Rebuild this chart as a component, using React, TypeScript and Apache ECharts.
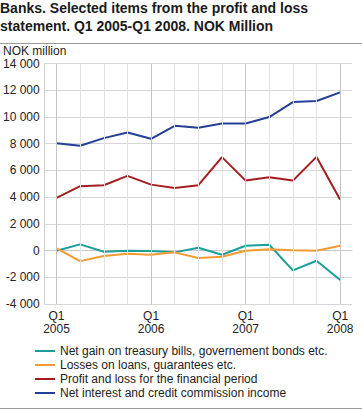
import React, { useEffect, useRef } from "react";
import * as echarts from "echarts";

const categories = [
  "Q1 2005", "Q2 2005", "Q3 2005", "Q4 2005",
  "Q1 2006", "Q2 2006", "Q3 2006", "Q4 2006",
  "Q1 2007", "Q2 2007", "Q3 2007", "Q4 2007",
  "Q1 2008",
];

const netGain = [-15, 465, -90, -15, -40, -135, 210, -315, 360, 435, -1485, -765, -2210];
const losses = [165, -790, -410, -240, -315, -135, -560, -465, -15, 90, 15, -15, 360];
const profit = [3940, 4815, 4890, 5590, 4935, 4690, 4890, 6990, 5235, 5490, 5235, 7010, 3810];
const netInterest = [8040, 7840, 8415, 8835, 8365, 9340, 9190, 9510, 9510, 9990, 11115, 11190, 11835];

const seriesNames = [
  "Net gain on treasury bills, governement bonds etc.",
  "Losses on loans, guarantees etc.",
  "Profit and loss for the financial period",
  "Net interest and credit commission income",
];
const seriesData = [netGain, losses, profit, netInterest];
const seriesColors = ["#1b9e9a", "#f39a32", "#a31d21", "#233f96"];

const FONT = "Liberation Sans, Arial, sans-serif";

export default function App() {
  const ref = useRef<HTMLDivElement>(null);
  useEffect(() => {
    if (!ref.current) return;
    const chart = echarts.init(ref.current, undefined, { renderer: "svg" });
    const fmt = (v: number) => {
      const s = Math.abs(v).toString().replace(/\B(?=(\d{3})+(?!\d))/g, " ");
      return (v < 0 ? "-" : "") + s;
    };
    chart.setOption({
      animation: false,
      textStyle: { fontFamily: FONT },
      title: {
        text: "Banks. Selected items from the profit and loss\nstatement. Q1 2005-Q1 2008. NOK Million",
        left: 0,
        top: -1,
        padding: 0,
        textStyle: {
          fontFamily: FONT,
          fontSize: 14,
          fontWeight: "bold",
          lineHeight: 18,
          color: "#1a1a1a",
        },
      },
      graphic: [
        { type: "line", shape: { x1: 0, y1: 43.5, x2: 362, y2: 43.5 }, style: { stroke: "#9a9a9a", lineWidth: 1 } },
        { type: "line", shape: { x1: 0, y1: 408.5, x2: 362, y2: 408.5 }, style: { stroke: "#9a9a9a", lineWidth: 1 } },
        {
          type: "text",
          left: 3,
          top: 45,
          style: { text: "NOK million", font: `12px ${FONT}`, fill: "#222" },
        },
      ],
      legend: {
        data: seriesNames,
        orient: "vertical",
        left: 35,
        top: 345,
        padding: 0,
        itemWidth: 20,
        itemHeight: 2,
        itemGap: 2,
        icon: "rect",
        textStyle: { fontFamily: FONT, fontSize: 12, lineHeight: 12, color: "#222" },
      },
      grid: { left: 44, right: 10, top: 63.5, bottom: 106 },
      xAxis: {
        type: "category",
        data: categories,
        boundaryGap: true,
        axisTick: { show: false },
        axisLine: { lineStyle: { color: "#c8c8c8" } },
        splitLine: { show: false },
        axisLabel: {
          interval: 0,
          formatter: (v: string, i: number) => (i % 4 === 0 ? v.replace(" ", "\n") : ""),
          color: "#222",
          fontFamily: FONT,
          fontSize: 12,
          lineHeight: 13,
          margin: 5,
        },
      },
      yAxis: {
        type: "value",
        min: -4000,
        max: 14000,
        interval: 2000,
        axisLine: { show: true, lineStyle: { color: "#d0d0d0" } },
        axisTick: { show: false },
        splitLine: { lineStyle: { color: "#d6d6d6" } },
        axisLabel: {
          formatter: fmt,
          color: "#222",
          fontFamily: FONT,
          fontSize: 12,
          margin: 5,
        },
      },
      series: [
        {
          name: "__grid",
          type: "line",
          data: [],
          z: 1,
          silent: true,
          markLine: {
            silent: true,
            symbol: ["none", "none"],
            label: { show: false },
            lineStyle: { type: "solid", width: 1 },
            data: categories.map((c, i) => ({
              xAxis: c,
              lineStyle: { color: i % 4 === 0 ? "#c4c4c4" : "#e3e3e3", type: "solid", width: 1 },
            })),
          },
        },
        ...seriesNames.map((name, k) => ({
          name,
          type: "line",
          data: seriesData[k],
          z: 3,
          symbol: "none",
          color: seriesColors[k],
          lineStyle: { width: 2, color: seriesColors[k] },
        })),
      ],
    });
    return () => chart.dispose();
  }, []);
  return (
    <div
      ref={ref}
      style={{ position: "absolute", left: 0, top: 0, width: 362, height: 410 }}
    />
  );
}
